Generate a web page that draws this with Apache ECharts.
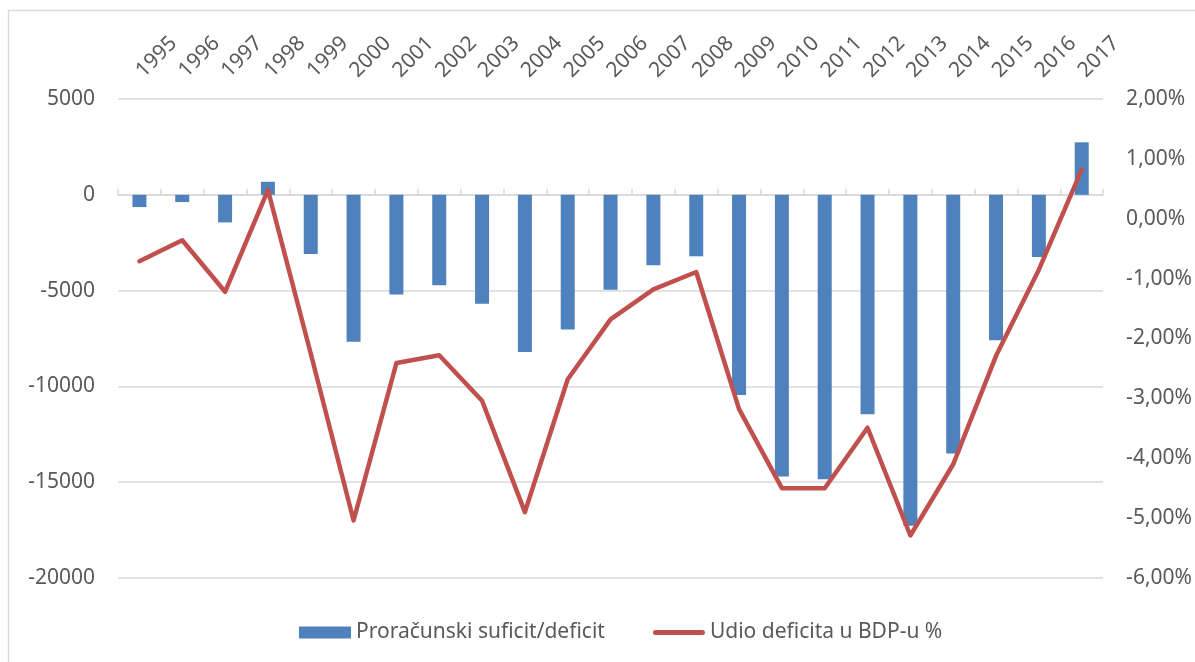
<!DOCTYPE html>
<html>
<head>
<meta charset="utf-8">
<script src="https://cdn.jsdelivr.net/npm/echarts@6/dist/echarts.min.js"></script>
<style>
  html, body { margin: 0; padding: 0; background: #fff; }
  #chart { width: 1195px; height: 662px; }
</style>
</head>
<body>
<div id="chart"></div>
<script>
// godine
var years = ['1995', '1996', '1997', '1998', '1999', '2000', '2001', '2002', '2003', '2004', '2005', '2006',
             '2007', '2008', '2009', '2010', '2011', '2012', '2013', '2014', '2015', '2016', '2017'];

// proračunski suficit/deficit
var balance = [-640, -380, -1440, 680, -3090, -7670, -5210, -4720, -5680, -8200, -7030, -4950,
               -3680, -3210, -10450, -14700, -14840, -11460, -17270, -13500, -7590, -3250, 2740];

// udio deficita u BDP-u (%)
var deficitShare = [-0.71, -0.36, -1.22, 0.48, -2.25, -5.04, -2.41, -2.28, -3.04, -4.9, -2.68, -1.68,
                    -1.18, -0.89, -3.18, -4.5, -4.5, -3.49, -5.29, -4.1, -2.29, -0.85, 0.82];

var textColor = '#595959';
var gridColor = '#d9d9d9';
var font = '"Noto Sans", sans-serif';

var chart = echarts.init(document.getElementById('chart'));

chart.setOption({
    animation: false,
    textStyle: { fontFamily: font },
    graphic: [{
        type: 'rect',
        shape: { x: 8.5, y: 10.5, width: 1200, height: 700 },
        style: { fill: 'none', stroke: gridColor, lineWidth: 1.5 },
        silent: true
    }],
    grid: { left: 118, right: 91, top: 99, bottom: 84 },
    legend: {
        top: 617,
        left: 294,
        itemWidth: 52,
        itemHeight: 12,
        itemGap: 48,
        textStyle: { color: textColor, fontSize: 21, fontFamily: font },
        data: [
            { name: 'Proračunski suficit/deficit', icon: 'rect' },
            { name: 'Udio deficita u BDP-u %', icon: 'path://M2.5,0 L49.5,0 A2.5,2.5 0 0 1 49.5,5 L2.5,5 A2.5,2.5 0 0 1 2.5,0 Z' }
        ]
    },
    xAxis: {
        type: 'category',
        position: 'top',
        data: years,
        axisLine: { lineStyle: { color: gridColor, width: 1.5 } },
        axisTick: { show: true, length: 6, lineStyle: { color: gridColor, width: 1.5 } },
        axisLabel: { rotate: 45, margin: 25, color: textColor, fontSize: 21, fontFamily: font }
    },
    yAxis: [{
        type: 'value',
        min: -20000,
        max: 5000,
        interval: 5000,
        axisLine: { show: false },
        axisTick: { show: false },
        axisLabel: {
            color: textColor, fontSize: 21, margin: 23, fontFamily: font,
            formatter: function (v) { return String(v); }
        },
        splitLine: { lineStyle: { color: gridColor, width: 1.5 } }
    }, {
        type: 'value',
        min: -6,
        max: 2,
        interval: 1,
        axisLine: { show: false },
        axisTick: { show: false },
        splitLine: { show: false },
        axisLabel: {
            color: textColor, fontSize: 21, margin: 23, fontFamily: font,
            formatter: function (v) { return v.toFixed(2).replace('.', ',') + '%'; }
        }
    }],
    series: [{
        name: 'Proračunski suficit/deficit',
        type: 'bar',
        data: balance,
        barWidth: 14,
        itemStyle: { color: '#4f81bd' }
    }, {
        name: 'Udio deficita u BDP-u %',
        type: 'line',
        yAxisIndex: 1,
        data: deficitShare,
        symbol: 'none',
        lineStyle: { color: '#c0504d', width: 4.5, cap: 'round', join: 'round' },
        itemStyle: { color: '#c0504d' }
    }]
});
</script>
</body>
</html>
